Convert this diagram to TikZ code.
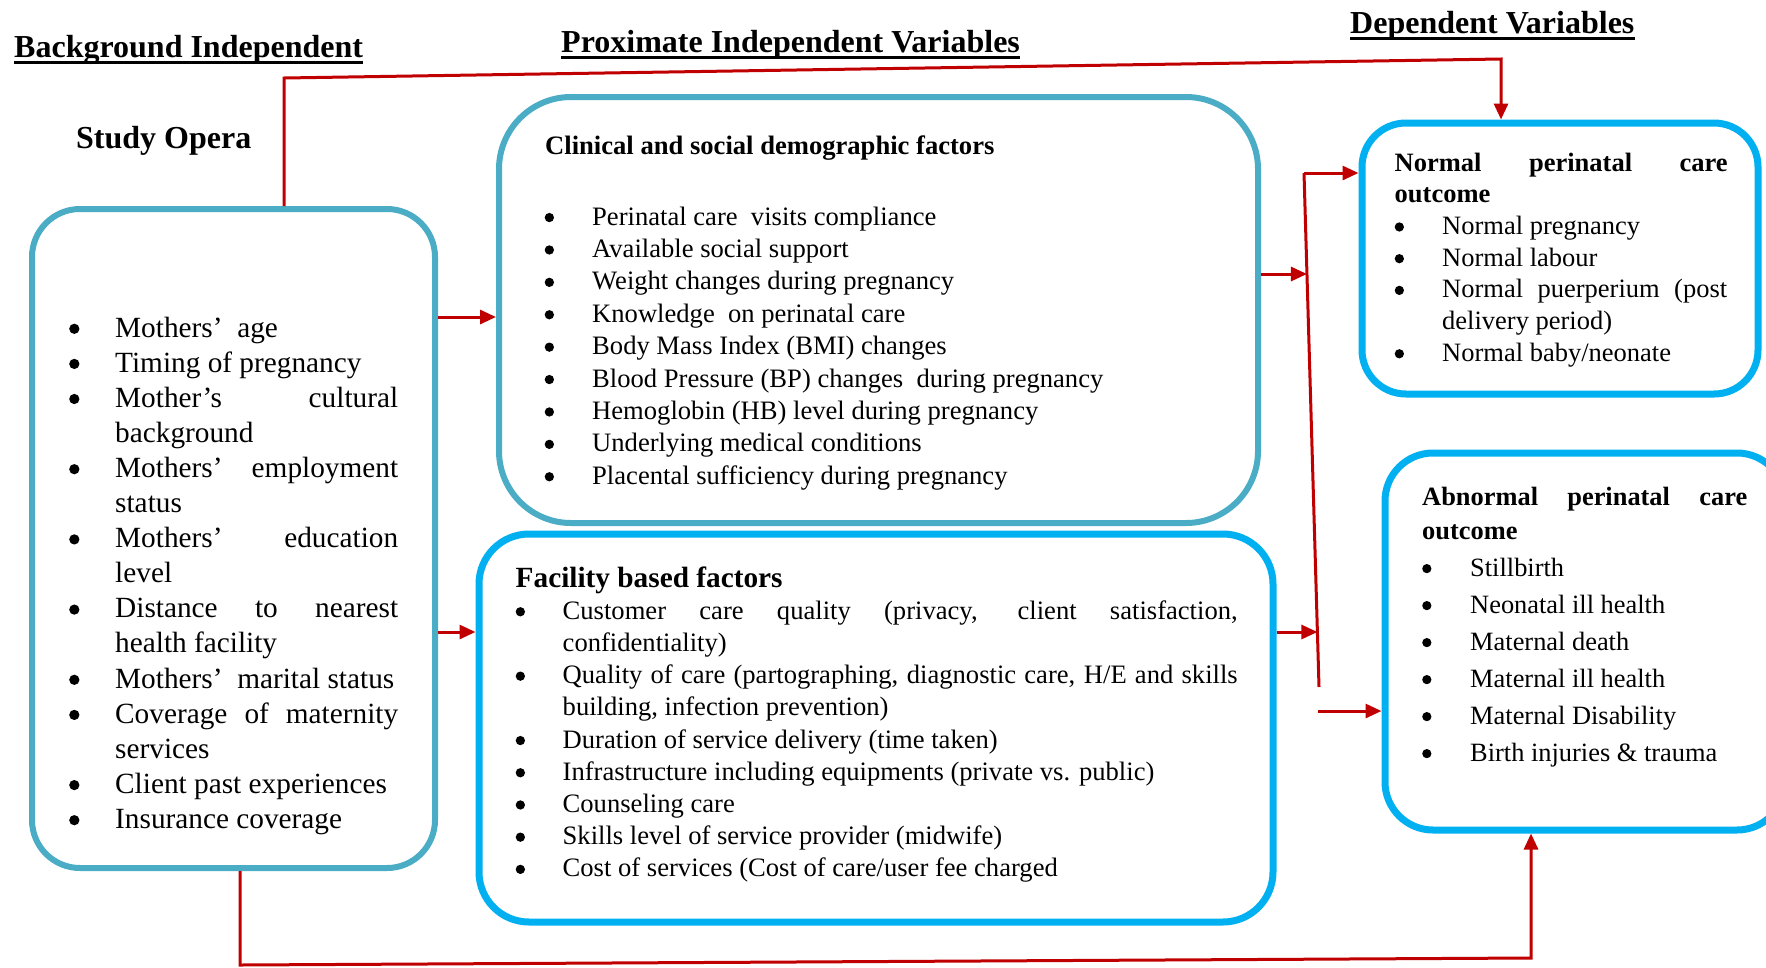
\documentclass[tikz,border=0pt]{standalone}
\usepackage{fontspec}
\setmainfont{Liberation Serif}
\usetikzlibrary{arrows.meta,calc}
\definecolor{arrred}{HTML}{C00000}
\definecolor{aquab}{HTML}{4BACC6}
\definecolor{skyb}{HTML}{00B0F0}
\newlength\bw
\newcommand\bb{\makebox[\bw][l]{\tikz[baseline=0pt]\fill[black] (0.175em,0.28em) circle[radius=0.175em];}}
\newcommand\cont{\hspace*{\bw}}
\begin{document}
\begin{tikzpicture}[x=1pt,y=-1pt,
  boxa/.style={draw=aquab, line width=6pt, rounded corners=#1, inner sep=0pt},
  boxb/.style={draw=skyb, line width=7pt, rounded corners=#1, inner sep=0pt},
  txt/.style={anchor=base west, inner sep=0pt, text=black},
  hdr/.style={txt, font=\fontsize{32}{38}\selectfont\bfseries},
  redline/.style={draw=arrred, line width=3pt},
  arr/.style={redline, -{Triangle[length=16pt,width=14pt]}},
  uline/.style={line width=3pt}]
\useasboundingbox (0,0) rectangle (1766,967);
\clip (0,0) rectangle (1766,967);

% headers
\node[hdr] (bg) at (14,57) {Background Independent};
\draw[uline] ($(bg.base west)+(0,5.5)$) -- ($(bg.base east)+(0,5.5)$);
\node[hdr] (px) at (561,52) {Proximate Independent Variables};
\draw[uline] ($(px.base west)+(0,5.5)$) -- ($(px.base east)+(0,5.5)$);
\node[hdr] (dv) at (1350,33) {Dependent Variables};
\draw[uline] ($(dv.base west)+(0,5.5)$) -- ($(dv.base east)+(0,5.5)$);
\node[hdr] (so) at (76,148) {Study Opera};

% boxes
\node[boxa=48pt, minimum width=403pt, minimum height=659pt] (lb) at (233.5,538.5) {};
\node[boxa=72pt, minimum width=759pt, minimum height=426pt] (clin) at (878.5,310) {};
\node[boxb=50pt, minimum width=794pt, minimum height=388pt] (fac) at (876,728) {};
\node[boxb=44pt, minimum width=396pt, minimum height=271pt] (norm) at (1560,258.5) {};
\node[boxb=48pt, minimum width=400pt, minimum height=377pt] (abn) at (1585,641.5) {};

% left box text
\node[txt] (lbt) at (69,337) {\parbox[t]{420pt}{\fontsize{29.3}{35.1}\selectfont\setlength\bw{46pt}%
\bb Mothers’~~age\\
\bb Timing of pregnancy\\
\bb\makebox[283pt][s]{Mother’s cultural}\\
\cont background\\
\bb\makebox[283pt][s]{Mothers’ employment}\\
\cont status\\
\bb\makebox[283pt][s]{Mothers’ education}\\
\cont level\\
\bb\makebox[283pt][s]{Distance to nearest}\\
\cont health facility\\
\bb Mothers’~~marital status\\
\bb\makebox[283pt][s]{Coverage of maternity}\\
\cont services\\
\bb Client past experiences\\
\bb Insurance coverage}};

% clinical text
\node[txt, font=\fontsize{26.6}{32}\selectfont\bfseries] (clt) at (545,154) {Clinical and social demographic factors};
\node[txt] (cli) at (544.5,225) {\parbox[t]{720pt}{\fontsize{26.6}{32.4}\selectfont\setlength\bw{47.5pt}%
\bb Perinatal care~~visits compliance\\
\bb Available social support\\
\bb Weight changes during pregnancy\\
\bb Knowledge~~on perinatal care\\
\bb Body Mass Index (BMI) changes\\
\bb Blood Pressure (BP) changes~~during pregnancy\\
\bb Hemoglobin (HB) level during pregnancy\\
\bb Underlying medical conditions\\
\bb Placental sufficiency during pregnancy}};

% facility text
\node[txt] (fat) at (515.5,587) {\parbox[t]{760pt}{\fontsize{26.6}{32.2}\selectfont\setlength\bw{47pt}%
{\fontsize{29.3}{32.2}\selectfont\bfseries Facility based factors}\\
\bb\makebox[675pt][s]{Customer care quality (privacy, client satisfaction,}\\
\cont confidentiality)\\
\bb\makebox[675pt][s]{Quality of care (partographing, diagnostic care, H/E and skills}\\
\cont building, infection prevention)\\
\bb Duration of service delivery (time taken)\\
\bb Infrastructure including equipments (private vs. public)\\
\bb Counseling care\\
\bb Skills level of service provider (midwife)\\
\bb Cost of services (Cost of care/user fee charged}};

% normal text
\node[txt] (nmt) at (1394.5,171) {\parbox[t]{360pt}{\fontsize{26.5}{31.7}\selectfont\setlength\bw{47.5pt}%
{\bfseries\makebox[333pt][s]{Normal perinatal care}}\\
{\bfseries outcome}\\
\bb Normal pregnancy\\
\bb Normal labour\\
\bb\makebox[285pt][s]{Normal puerperium (post}\\
\cont delivery period)\\
\bb Normal baby/neonate}};

% abnormal text
\node[txt] (abt) at (1422,505) {\parbox[t]{360pt}{\fontsize{26.4}{37}\selectfont\setlength\bw{48pt}%
{\bfseries\makebox[325pt][s]{Abnormal perinatal care}}\\[-3pt]
{\bfseries outcome}\\
\bb Stillbirth\\
\bb Neonatal ill health\\
\bb Maternal death\\
\bb Maternal ill health\\
\bb Maternal Disability\\
\bb Birth injuries \& trauma}};

% connectors
\coordinate (t1) at (284,78);
\coordinate (t2) at (1501,59);
\draw[arr] (lb.north -| t1) -- (t1) -- (t2) -- (norm.north -| t2);

\coordinate (y317) at (0,317);
\coordinate (y632) at (0,632);
\draw[arr] (lb.east |- y317) -- (clin.west |- y317);
\draw[arr] (lb.east |- y632) -- (fac.west |- y632);

\coordinate (j1) at (1304,173);
\coordinate (j2) at (1319,687);
\draw[redline] (j1) -- (j2);
\draw[arr] (j1) -- (norm.west |- j1);
\coordinate (jc) at ($(j1)!0.1965!(j2)$);
\coordinate (jf) at ($(j1)!0.893!(j2)$);
\draw[arr] (clin.east |- jc) -- (jc);
\draw[arr] (fac.east |- jf) -- (jf);

\coordinate (a0) at (1318,711);
\draw[arr] (a0) -- (abn.west |- a0);

\coordinate (b1) at (240,965);
\coordinate (b2) at (1531,958);
\draw[arr] (lb.south -| b1) -- (b1) -- (b2) -- (abn.south -| b2);
\end{tikzpicture}
\end{document}
